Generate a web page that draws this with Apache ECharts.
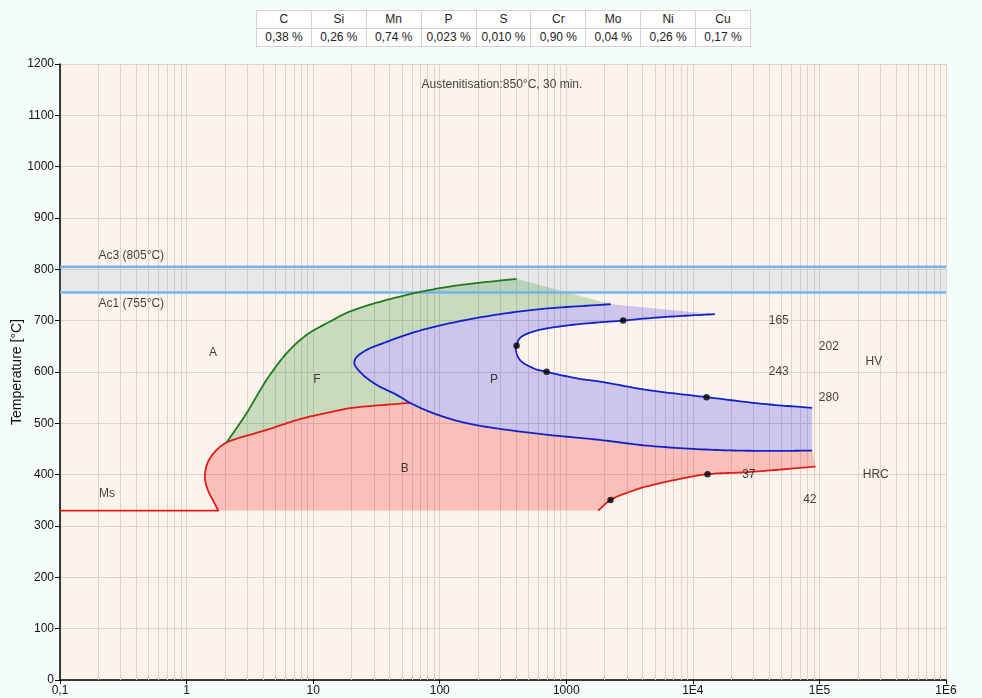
<!DOCTYPE html>
<html><head><meta charset="utf-8">
<script src="https://cdn.jsdelivr.net/npm/echarts@6/dist/echarts.min.js"></script>
<style>
html,body{margin:0;padding:0;background:#f5fdfa;}
#chart{position:absolute;left:0;top:0;width:982px;height:698px;}
#comp{position:absolute;left:256px;top:10px;width:495px;border-collapse:collapse;table-layout:fixed;background:#fff;font-family:Arial,"Liberation Sans",sans-serif;font-size:12px;color:#222;z-index:2;}
#comp td{border:1px solid #d2d2d2;text-align:center;padding:0;height:17px;line-height:17px;}
</style></head><body>
<div id="chart"></div>
<table id="comp"><tr id="r1"></tr><tr id="r2"></tr></table>
<script>
// ---- composition table ----
const elements = ['C','Si','Mn','P','S','Cr','Mo','Ni','Cu'];
const contents = ['0,38 %','0,26 %','0,74 %','0,023 %','0,010 %','0,90 %','0,04 %','0,26 %','0,17 %'];

// ---- axes ----
const xTickLabels = ['0,1','1','10','100','1000','1E4','1E5','1E6'];
const xMin = 0.1, xMax = 1e6;
const yMin = 0, yMax = 1200, yStep = 100;
const minorMultipliers = [2,3,4,5,6,7,8,9];

// ---- critical temperatures ----
const acTemps = [805, 755];
const acLabels = ['Ac3 (805°C)', 'Ac1 (755°C)'];
const acLabelTemps = [826, 733];
const msTemp = 330;
const msTimes = [0.1, 1.78];

// ---- transformation curves (time s, temperature °C) ----
// bainite start (red, from Ms kink)
const bsTimes = [1.78, 1.44, 1.397, 1.48, 1.73, 2.07, 4.29, 7.87, 13.6, 19.5, 58.2];
const bsTemps = [330, 376.7, 399.5, 425.5, 448.3, 462.5, 487.2, 508.1, 521.7, 529.5, 540];
// ferrite start (green)
const fsTimes = [2.07, 2.98, 4.29, 6.18, 8.89, 13.6, 19.5, 48.5, 120, 405];
const fsTemps = [462.5, 519.8, 584.7, 636.7, 672.4, 698.3, 717.8, 747, 766.5, 781.5];
// pearlite start (outer blue)
const psTimes = [2251, 548, 163, 65.7, 35.8, 26.5, 21.8, 21.2, 24.3, 31.7, 45.7, 58.2, 88.9, 163, 548, 1842, 4309, 14465, 38200, 87600];
const psTemps = [732.2, 721.1, 701.6, 678.8, 656.2, 643.1, 627.6, 615.9, 596.4, 575, 555.5, 540, 519.8, 500.3, 480.8, 467.7, 456.6, 448.3, 446.3, 446.9];
// pearlite finish (inner blue)
const pfTimes = [14920, 5829, 2814, 1006, 548, 430, 405, 400, 430, 548, 699, 1281, 1842, 4309, 12830, 35920, 87600];
const pfTemps = [712.7, 706.9, 700.3, 690.5, 678.8, 666, 651, 643, 623.7, 607.5, 600.3, 586.6, 581.4, 565.2, 551, 537.9, 530.1];
// bainite finish (red, right)
const bfTimes = [1786, 2238, 3377, 4309, 7895, 13060, 26570, 93150];
const bfTemps = [330, 350.8, 369, 377, 391.7, 400.9, 404.8, 415.7];

// ---- cooling-curve intersection dots ----
const dotTimes = [405, 699, 2814, 12830, 2238, 13060];
const dotTemps = [651, 600.3, 700.3, 551, 350.8, 400.9];

// ---- hardness labels ----
const hardTexts = ['165', '202', '243', '280', 'HV', '37', '42', 'HRC'];
const hardTimes = [47700, 118600, 47700, 118600, 269000, 27700, 84000, 278700];
const hardTemps = [699.6, 649, 600.3, 549.6, 619.8, 399.5, 350.8, 399.5];

// ---- phase labels ----
const phaseTexts = ['A', 'F', 'P', 'B', 'Ms', 'Austenitisation:850°C, 30 min.'];
const phaseTimes = [1.62, 10.7, 268, 53, 0.235, 310];
const phaseTemps = [637, 584.7, 584.7, 411, 362.5, 1159.6];

// build table
elements.forEach(e => { const td = document.createElement('td'); td.textContent = e; document.getElementById('r1').appendChild(td); });
contents.forEach(e => { const td = document.createElement('td'); td.textContent = e; document.getElementById('r2').appendChild(td); });

// minor vertical grid values
const minorValues = [];
for (let k = -1; k <= 5; k++) minorMultipliers.forEach(m => minorValues.push(m * Math.pow(10, k)));

function toPx(api, ts, Ts) { return ts.map((t, i) => api.coord([t, Ts[i]])); }
function smoothCurve(pts) {
  const n = pts.length;
  const ext = [[2 * pts[0][0] - pts[1][0], 2 * pts[0][1] - pts[1][1]]].concat(pts,
    [[2 * pts[n - 1][0] - pts[n - 2][0], 2 * pts[n - 1][1] - pts[n - 2][1]]]);
  const out = [pts[0]], idx = [0];
  const d = (a, b) => Math.max(Math.pow(Math.hypot(b[0] - a[0], b[1] - a[1]), 0.5), 1e-4);
  for (let i = 0; i < n - 1; i++) {
    const p0 = ext[i], p1 = ext[i + 1], p2 = ext[i + 2], p3 = ext[i + 3];
    const t0 = 0, t1 = t0 + d(p0, p1), t2 = t1 + d(p1, p2), t3 = t2 + d(p2, p3);
    const N = 16;
    for (let s = 1; s <= N; s++) {
      const t = t1 + (t2 - t1) * s / N;
      const L = (a, b, ta, tb) => [((tb - t) * a[0] + (t - ta) * b[0]) / (tb - ta), ((tb - t) * a[1] + (t - ta) * b[1]) / (tb - ta)];
      const A1 = L(p0, p1, t0, t1), A2 = L(p1, p2, t1, t2), A3 = L(p2, p3, t2, t3);
      const B1 = L(A1, A2, t0, t2), B2 = L(A2, A3, t1, t3);
      out.push(L(B1, B2, t1, t2));
    }
    idx.push(out.length - 1);
  }
  return { pts: out, idx: idx };
}
function curves(api) {
  return {
    bs: smoothCurve(toPx(api, bsTimes, bsTemps)),
    fs: smoothCurve(toPx(api, fsTimes, fsTemps)),
    ps: smoothCurve(toPx(api, psTimes, psTemps)),
    pf: smoothCurve(toPx(api, pfTimes, pfTemps)),
    bf: smoothCurve(toPx(api, bfTimes, bfTemps))
  };
}

const gridColor = '#dcd3ca';
const blue = '#1222c8', red = '#e31b1b', green = '#1f7a1f';

const anchor = [[1, 100]];

const option = {
  backgroundColor: '#f5fdfa',
  animation: false,
  grid: { left: 60, right: 36, top: 64, bottom: 18, show: true, backgroundColor: '#fcf4ec', borderWidth: 0, containLabel: false, outerBoundsMode: 'none' },
  xAxis: {
    type: 'log', logBase: 10, min: xMin, max: xMax, splitNumber: 7,
    axisLine: { show: true, onZero: false, lineStyle: { color: '#000', width: 1.5 } },
    axisTick: { show: true, length: 4, lineStyle: { color: '#000' } },
    axisLabel: { color: '#111', fontSize: 12, fontFamily: 'Liberation Sans, Arial, sans-serif', margin: 5,
      formatter: v => xTickLabels[Math.round(Math.log10(v)) + 1] },
    splitLine: { show: true, lineStyle: { color: gridColor, width: 1 } },
    minorTick: { show: false }, minorSplitLine: { show: false }
  },
  yAxis: {
    type: 'value', min: yMin, max: yMax, interval: yStep,
    name: 'Temperature [°C]', nameLocation: 'middle', nameGap: 36, nameRotate: 90, nameMoveOverlap: false,
    nameTextStyle: { fontSize: 14, color: '#111', fontFamily: 'Liberation Sans, Arial, sans-serif' },
    axisLine: { show: true, lineStyle: { color: '#000', width: 1.5 } },
    axisTick: { show: true, length: 5, lineStyle: { color: '#000' } },
    axisLabel: { color: '#111', fontSize: 12, fontFamily: 'Liberation Sans, Arial, sans-serif', margin: 6,
      formatter: v => String(v) },
    splitLine: { show: true, lineStyle: { color: gridColor, width: 1 } }
  },
  series: [
    { // minor vertical grid lines
      type: 'custom', silent: true, data: anchor, z: 1,
      renderItem: (params, api) => ({
        type: 'group',
        children: minorValues.map(v => {
          const a = api.coord([v, yMin]), b = api.coord([v, yMax]);
          return { type: 'line', shape: { x1: Math.round(a[0]) + 0.5, y1: a[1], x2: Math.round(a[0]) + 0.5, y2: b[1] }, style: { stroke: gridColor, lineWidth: 1 } };
        })
      })
    },
    { // Ac band fill
      type: 'custom', silent: true, data: anchor, z: 2,
      renderItem: (params, api) => {
        const a = api.coord([xMin, acTemps[0]]), b = api.coord([xMax, acTemps[1]]);
        return { type: 'rect', shape: { x: a[0], y: a[1], width: b[0] - a[0], height: b[1] - a[1] }, style: { fill: 'rgba(110,160,215,0.14)' } };
      }
    },
    { // phase fills
      type: 'custom', silent: true, data: anchor, z: 3,
      renderItem: (params, api) => {
        const c = curves(api);
        const jB = bsTimes.indexOf(fsTimes[0]);
        const jP = psTimes.indexOf(bsTimes[bsTimes.length - 1]);
        const ferrite = c.bs.pts.slice(c.bs.idx[jB])
          .concat(c.ps.pts.slice(0, c.ps.idx[jP] + 1).reverse())
          .concat(c.fs.pts.slice().reverse());
        const pearlite = c.ps.pts.concat(c.pf.pts.slice().reverse());
        const bainite = c.bs.pts
          .concat(c.ps.pts.slice(c.ps.idx[jP]))
          .concat(c.bf.pts.slice().reverse());
        return { type: 'group', children: [
          { type: 'polygon', shape: { points: ferrite }, style: { fill: 'rgba(20,130,20,0.22)' } },
          { type: 'polygon', shape: { points: bainite }, style: { fill: 'rgba(240,30,20,0.24)' } },
          { type: 'polygon', shape: { points: pearlite }, style: { fill: 'rgba(40,30,230,0.22)' } }
        ]};
      }
    },
    { // Ac lines
      type: 'custom', silent: true, data: anchor, z: 4,
      renderItem: (params, api) => ({
        type: 'group',
        children: acTemps.map(T => {
          const a = api.coord([xMin, T]), b = api.coord([xMax, T]);
          return { type: 'line', shape: { x1: a[0], y1: a[1], x2: b[0], y2: b[1] }, style: { stroke: '#74b4ea', lineWidth: 2.5 } };
        })
      })
    },
    { // transformation curves
      type: 'custom', silent: true, data: anchor, z: 5,
      renderItem: (params, api) => {
        const c = curves(api);
        const ms = toPx(api, msTimes, [msTemp, msTemp]);
        const ln = (pts, col) => ({ type: 'polyline', shape: { points: pts }, style: { stroke: col, lineWidth: 1.8, fill: null, lineJoin: 'round' } });
        return { type: 'group', children: [
          ln(ms.concat(c.bs.pts), red),
          ln(c.bf.pts, red),
          ln(c.fs.pts, green),
          ln(c.ps.pts, blue),
          ln(c.pf.pts, blue)
        ]};
      }
    },
    { // dots
      type: 'scatter', silent: true, z: 6, symbol: 'circle', symbolSize: 6.5,
      itemStyle: { color: '#000' },
      data: dotTimes.map((t, i) => [t, dotTemps[i]])
    },
    { // phase + hardness labels
      type: 'scatter', silent: true, z: 7, symbolSize: 1, itemStyle: { color: 'rgba(0,0,0,0)' },
      label: { show: true, position: 'inside', color: '#111', fontSize: 12, fontFamily: 'Liberation Sans, Arial, sans-serif', formatter: p => p.name },
      data: phaseTexts.map((s, i) => ({ name: s, value: [phaseTimes[i], phaseTemps[i]] }))
        .concat(hardTexts.map((s, i) => ({ name: s, value: [hardTimes[i], hardTemps[i]] })))
    },
    { // Ac labels (left aligned)
      type: 'scatter', silent: true, z: 7, symbolSize: 1, itemStyle: { color: 'rgba(0,0,0,0)' },
      label: { show: true, position: 'right', distance: 0, color: '#111', fontSize: 12, fontFamily: 'Liberation Sans, Arial, sans-serif', formatter: p => p.name },
      data: acLabels.map((s, i) => ({ name: s, value: [0.2, acLabelTemps[i]] }))
    }
  ]
};
const chart = echarts.init(document.getElementById('chart'), null, { renderer: 'canvas' });
chart.setOption(option);
</script>
</body></html>
